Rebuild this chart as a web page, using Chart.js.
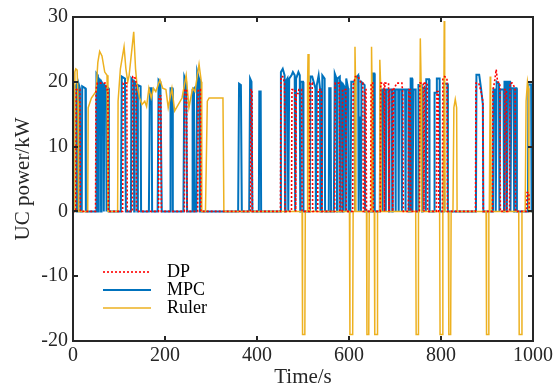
<!DOCTYPE html>
<html>
<head>
<meta charset="utf-8">
<script src="https://cdn.jsdelivr.net/npm/chart.js@4.4.0/dist/chart.umd.min.js"></script>
<style>
  html, body { margin: 0; padding: 0; background: #fff; }
  #grafico { display: block; }
</style>
</head>
<body>
<canvas id="grafico" width="559" height="390"></canvas>
<script>
// pontos [tempo s, potencia kW]
var dpPoints = [
  [0,0],[6,0],[7,18.8],[15,18.8],[16,0],
  [49,0],[50,18.8],[53,19.8],[62,19.8],[70,19.8],[73,18.8],[76,18.8],[77,0],
  [108,0],[109,19.8],[117,19.8],[118,0],
  [129,0],[130,20.8],[134,20.8],[137,20],[138,0],
  [186,0],[187,17.8],[191,17.8],[192,0],
  [242,0],[243,18.8],[247,18.8],[248,0],
  [271,0],[272,18.8],[277,18.8],[278,0],
  [386,0],[387,18.8],[389,18.8],[390,0],
  [451,0],[452,20.8],[456,20.8],[460,19.8],[461,0],
  [475,0],[476,18.8],[483,18.8],[484,0],[485,18.2],[490,18.2],[491,18.8],[497,18.8],[498,0],
  [514,0],[515,19.8],[520,19.8],[521,0],
  [532,0],[533,18.8],[540,18.8],[541,0],
  [569,0],[570,19.8],[579,19.8],[580,0],[585,0],[586,18.8],[593,18.8],[594,0],
  [608,0],[609,19.5],[614,20.8],[620,20.8],[626,19.8],[630,19.8],[631,0],
  [634,0],[635,18.8],[637,18.8],[638,0],
  [647,0],[648,19.8],[652,19.8],[653,0],
  [668,0],[669,19.8],[676,19.8],[677,0],[678,19.8],[686,19.8],[687,0],[688,18.8],[694,18.8],[695,0],
  [697,18.8],[704,19.8],[715,19.8],[717,18],[718,0],
  [729,0],[730,18.8],[733,18.8],[734,0],
  [753,0],[754,19.8],[762,19.8],[763,0],[764,19.8],[770,19.8],[771,0],
  [790,0],[791,18.5],[794,18.5],[795,0],
  [803,0],[804,20.5],[808,20.8],[813,20.5],[814,0],
  [875,0],[876,19.8],[882,19.8],[887,18.5],[891,17],[892,0],
  [912,0],[913,18.8],[916,19.8],[920,21.9],[923,20],[928,19.8],[929,0],
  [938,0],[939,18.8],[942,18.8],[943,0],
  [949,0],[950,19.8],[955,19.8],[961,19],[962,0],
  [986,0],[987,2.9],[991,2.9],[992,0],[1000,0]
];

var mpcPoints = [
  [0,0],[1,19],[7,19.5],[8,0],[10,0],[11,20],[15,19],[16,0],[19,0],[20,19.3],[27,19],[28,0],
  [50,0],[51,21.3],[54,21],[55,0],[56,20.5],[60,20],[61,0],[62,20],[66,19.5],[67,0],
  [68,19.5],[72,19.3],[73,0],[74,19.2],[77,19],[78,0],
  [104,0],[106,20.8],[113,20.5],[115,0],[126,0],[127,20.5],[132,20],[133,0],
  [134,20],[139,19.5],[140,0],[141,19.5],[147,19.3],[148,0],
  [165,0],[167,19],[171,19],[172,0],
  [184,0],[186,20.3],[190,20],[193,0],
  [211,0],[212,19],[216,19],[217,0],
  [240,0],[242,20.8],[246,20],[248,0],
  [259,0],[260,18.8],[263,19],[264,0],
  [268,0],[270,21.6],[274,20.5],[276,0],
  [359,0],[361,19.7],[365,19.5],[367,0],
  [383,0],[385,20.5],[388,20],[390,0],
  [404,0],[405,18.5],[408,18.5],[409,0],
  [450,0],[452,21.5],[456,22],[460,21],[461,0],[462,20],[466,20.5],[468,0],
  [470,20.5],[475,21],[478,21.5],[482,21],[483,0],[485,20.5],[490,21.5],[493,21],[494,0],
  [495,20],[500,20],[501,0],
  [515,0],[516,20.8],[520,20.8],[527,19],[528,0],[530,19.5],[534,21],[537,19],[538,0],
  [541,0],[542,21],[547,20.5],[548,0],
  [556,0],[557,19],[560,19],[561,0],
  [567,0],[569,21.3],[573,20.5],[574,0],[575,20.5],[580,20.8],[581,0],[582,20],[586,19.5],[587,0],
  [588,19.5],[592,19],[593,0],[594,20.5],[598,19],[599,0],
  [603,0],[605,20],[612,20],[613,0],[614,20.5],[620,21],[621,0],[622,14.5],[625,14.5],[626,0],
  [627,20],[634,19.5],[635,0],
  [650,0],[651,21.3],[655,21.3],[656,0],
  [667,0],[668,18.8],[672,18.8],[673,0],[674,18.8],[679,18.8],[680,0],[681,18.8],[686,18.8],[687,0],
  [688,18.8],[693,18.8],[694,0],[695,18.8],[700,18.8],[701,0],[702,18.8],[707,18.8],[708,0],
  [709,18.8],[714,18.8],[715,0],[716,18.8],[722,18.8],[723,0],[724,18.8],[729,18.8],[730,0],
  [733,0],[734,20.5],[737,20.5],[738,0],[740,18.8],[745,18.8],[746,0],
  [750,0],[751,19.5],[758,19.5],[759,0],[760,19],[766,19],[767,0],[768,20.4],[774,20.4],[775,0],
  [785,0],[786,18.3],[790,18.3],[791,20.5],[797,20.5],[798,0],
  [806,0],[807,19.7],[814,19.7],[815,0],
  [876,0],[877,21.1],[883,21.1],[887,19],[891,16.5],[892,0],
  [913,0],[914,18.8],[918,18.8],[919,0],[921,20],[926,19.7],[927,0],[929,18.8],[936,18.8],[937,0],
  [938,20],[942,20],[943,0],[946,20],[950,20],[951,0],[953,19],[958,19],[959,0],[960,19],[964,19],[965,0],
  [989,0],[990,19.6],[996,19.6],[997,0],[1000,0]
];

var rulerPoints = [
  [0,0],[3,0],[4,21.5],[6,22],[9,21.8],[11,17],[12,0],
  [32,0],[33,16],[40,17.5],[50,18.5],[54,23],[58,24.7],[63,24],[69,21.5],[74,21],[76,0],
  [97,0],[98,17],[103,22],[111,25.4],[115,22],[119,20],[122,21],[132,27.7],[136,22],[139,19.6],
  [145,17.5],[150,16.5],[156,17],[160,16.2],[165,19],[170,17.5],[175,19],[180,18.5],[189,20.3],
  [195,19],[202,18.8],[207,16],[215,19],[221,15.5],[237,17.5],[246,21],[252,16],[260,19],
  [265,18.5],[274,22.7],[279,20],[280,0],
  [288,0],[292,17],[296,17.5],[326,17.5],[328,0],
  [498,0],[499,-19],[504,-19],[505,0],
  [509,0],[510,20],[511,24.3],[513,19.8],[514,0],
  [601,0],[602,-19],[608,-19],[609,0],
  [612,0],[613,25.4],[614,21],[615,0],
  [638,0],[639,-19],[643,-19],[644,0],
  [648,0],[649,25.4],[650,20],[651,0],
  [655,0],[656,-19],[661,-19],[662,0],
  [666,0],[667,23.4],[669,19],[670,0],
  [745,0],[746,-19],[750,-19],[751,0],
  [753,0],[755,26.7],[757,19],[758,0],
  [797,0],[798,-19],[803,-19],[804,0],
  [805,0],[807,29.4],[808,20],[809,0],
  [816,0],[817,-19],[821,-19],[822,0],
  [826,0],[828,16],[831,17.3],[834,16],[835,0],
  [898,0],[899,-19],[903,-19],[904,0],
  [905,0],[907,20.8],[908,18],[909,0],
  [969,0],[970,-19],[975,-19],[976,0],
  [983,0],[985,17],[988,20],[990,19],[991,0],
  [1000,0]
];

var xTicks = [0, 200, 400, 600, 800, 1000];
var yTicks = [-20, -10, 0, 10, 20, 30];
var legendLabels = ['DP', 'MPC', 'Ruler'];

var corDP = '#FF0000';
var corMPC = '#0072BD';
var corRuler = '#EDB120';
var fonteSerif = '"Liberation Serif", "Times New Roman", serif';

function toXY(pontos) {
  return pontos.map(function (p) { return { x: p[0], y: p[1] }; });
}

// caixa estilo matlab com ticks para dentro + legenda dentro do grafico
var caixaMatlab = {
  id: 'caixaMatlab',
  afterDraw: function (chart) {
    var ctx = chart.ctx;
    var area = chart.chartArea;
    var sx = chart.scales.x;
    var sy = chart.scales.y;
    var tam = 5;

    ctx.save();
    ctx.strokeStyle = '#262626';
    ctx.lineWidth = 2;
    ctx.strokeRect(area.left, area.top, area.right - area.left, area.bottom - area.top);

    ctx.beginPath();
    xTicks.forEach(function (v) {
      var px = Math.round(sx.getPixelForValue(v));
      ctx.moveTo(px, area.bottom); ctx.lineTo(px, area.bottom - tam);
      ctx.moveTo(px, area.top); ctx.lineTo(px, area.top + tam);
    });
    yTicks.forEach(function (v) {
      var py = Math.round(sy.getPixelForValue(v));
      ctx.moveTo(area.left, py); ctx.lineTo(area.left + tam, py);
      ctx.moveTo(area.right, py); ctx.lineTo(area.right - tam, py);
    });
    ctx.stroke();

    // legenda
    var linhaX0 = area.left + 30;
    var linhaX1 = area.left + 78;
    var textoX = area.left + 94;
    var linhaY = [272, 290, 308];
    chart.data.datasets.forEach(function (ds, i) {
      ctx.beginPath();
      ctx.strokeStyle = ds.borderColor;
      ctx.lineWidth = ds.borderWidth;
      ctx.setLineDash(ds.borderDash || []);
      ctx.moveTo(linhaX0, linhaY[i]);
      ctx.lineTo(linhaX1, linhaY[i]);
      ctx.stroke();
      ctx.setLineDash([]);
      ctx.fillStyle = '#000';
      ctx.font = '18px ' + fonteSerif;
      ctx.textBaseline = 'middle';
      ctx.textAlign = 'left';
      ctx.fillText(legendLabels[i], textoX, linhaY[i]);
    });
    ctx.restore();
  }
};

var grafico = new Chart(document.getElementById('grafico'), {
  type: 'line',
  data: {
    datasets: [{
      label: legendLabels[0],
      data: toXY(dpPoints),
      borderColor: corDP,
      borderWidth: 1.6,
      borderDash: [2, 2],
      order: 1
    }, {
      label: legendLabels[1],
      data: toXY(mpcPoints),
      borderColor: corMPC,
      borderWidth: 2,
      order: 3
    }, {
      label: legendLabels[2],
      data: toXY(rulerPoints),
      borderColor: corRuler,
      borderWidth: 1.5,
      order: 2
    }]
  },
  options: {
    responsive: false,
    animation: false,
    devicePixelRatio: 1,
    elements: {
      point: { radius: 0 },
      line: { tension: 0, fill: false }
    },
    layout: { padding: { left: 0, right: 26, top: 16, bottom: 0 } },
    plugins: {
      legend: { display: false },
      tooltip: { enabled: false }
    },
    scales: {
      x: {
        type: 'linear',
        min: 0,
        max: 1000,
        afterFit: function (s) { s.height = 49; },
        afterBuildTicks: function (s) { s.ticks = xTicks.map(function (v) { return { value: v }; }); },
        grid: { display: false, drawTicks: false },
        border: { display: false },
        ticks: {
          padding: 3,
          color: '#262626',
          maxRotation: 0,
          font: { family: fonteSerif, size: 20 },
          callback: function (v) { return String(v); }
        },
        title: {
          display: true,
          text: 'Time/s',
          color: '#262626',
          padding: { top: 1, bottom: 0 },
          font: { family: fonteSerif, size: 21 }
        }
      },
      y: {
        min: -20,
        max: 30,
        afterFit: function (s) { s.width = 73; },
        afterBuildTicks: function (s) { s.ticks = yTicks.map(function (v) { return { value: v }; }); },
        grid: { display: false, drawTicks: false },
        border: { display: false },
        ticks: {
          padding: 5,
          color: '#262626',
          font: { family: fonteSerif, size: 20 },
          callback: function (v) { return String(v); }
        },
        title: {
          display: true,
          text: 'UC power/kW',
          color: '#262626',
          padding: { top: 11, bottom: 0 },
          font: { family: fonteSerif, size: 21 }
        }
      }
    }
  },
  plugins: [caixaMatlab]
});
</script>
</body>
</html>
